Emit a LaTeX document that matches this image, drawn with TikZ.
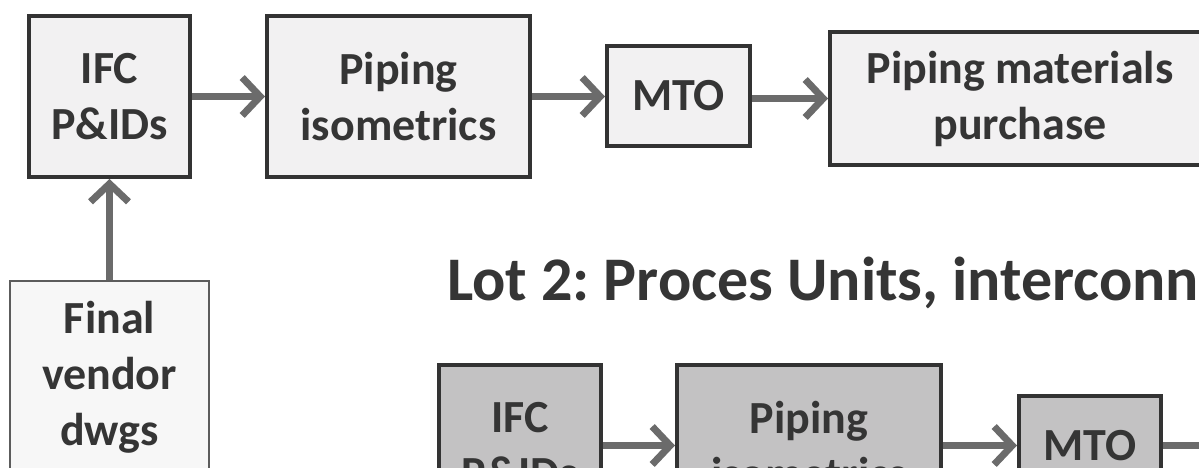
\documentclass[tikz,border=0pt]{standalone}
\usepackage{fontspec}
\setmainfont{Carlito}
\usetikzlibrary{arrows.meta}
\frenchspacing
\definecolor{txt}{HTML}{353535}
\definecolor{edge}{HTML}{333333}
\definecolor{lightfill}{HTML}{F2F1F2}
\definecolor{darkfill}{HTML}{C3C2C3}
\definecolor{arr}{HTML}{6B6B6B}
\tikzset{
  box/.style={draw=edge, line width=4pt, fill=lightfill, rectangle, inner sep=0pt,
    text=txt, align=center, font=\fontsize{46}{56}\selectfont\bfseries},
  darkbox/.style={box, fill=darkfill},
  vendorbox/.style={box, draw=edge!80, line width=2pt, fill=lightfill!60},
  flow/.style={draw=arr, line width=7pt, -{Straight Barb[length=18pt, width=38pt]}},
  title/.style={text=txt, inner sep=0pt, font=\fontsize{62}{70}\selectfont\bfseries}
}
\begin{document}
\begin{tikzpicture}[x=1pt, y=-1pt]
\useasboundingbox (0,0) rectangle (1199,467);
\clip (0,0) rectangle (1199,467);
\fill[white] (0,0) rectangle (1199,467);
% top row
\node[box, minimum width=161pt, minimum height=161pt] (ifc1) at (109.5,96.5) {IFC\\P\&IDs};
\node[box, minimum width=263pt, minimum height=161pt] (iso1) at (398.5,96.5) {Piping\\isometrics};
\node[box, minimum width=143pt, minimum height=100pt] (mto1) at (678.5,96) {MTO};
\node[box, minimum width=380pt, minimum height=133pt] (pur1) at (1020,98.5) {Piping materials\\purchase};
\node[vendorbox, minimum width=199pt, minimum height=192pt] (fin) at (109.5,377) {Final\\vendor\\dwgs};
% title
\node[title, anchor=base west] (lot2) at (447,300) {Lot 2: Proces Units, interconn};
% bottom row
\node[darkbox, minimum width=162pt, minimum height=161pt] (ifc2) at (520,445.5) {IFC\\P\&IDs};
\node[darkbox, minimum width=264pt, minimum height=161pt] (iso2) at (809,445.5) {Piping\\isometrics};
\node[darkbox, minimum width=142pt, minimum height=100pt] (mto2) at (1090,445.5) {MTO};
\coordinate (out2) at (1230,445.5);
% connectors
\draw[flow] (ifc1.east) -- (iso1.west);
\draw[flow] (iso1.east) -- (mto1.west |- iso1.east);
\draw[flow] (mto1.east |- pur1.west) -- (pur1.west);
\draw[flow] (fin.north) -- (ifc1.south);
\draw[flow] (ifc2.east) -- (iso2.west);
\draw[flow] (iso2.east) -- (mto2.west);
\draw[flow] (mto2.east) -- (out2);
\end{tikzpicture}
\end{document}
